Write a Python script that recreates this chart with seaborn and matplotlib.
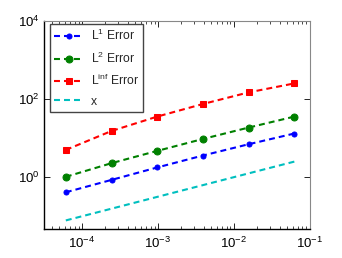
import matplotlib
matplotlib.use("Agg")
import matplotlib.pyplot as plt
import seaborn as sns
import numpy as np
import pandas as pd
from matplotlib.ticker import LogLocator, NullFormatter

h = [6.1035e-5, 2.4414e-4, 9.7656e-4, 3.9063e-3, 1.5625e-2, 6.25e-2]
err_l1 = [0.41, 0.85, 1.77, 3.58, 6.96, 13.1]
err_l2 = [1.02, 2.28, 4.7, 9.5, 18.6, 35.5]
err_linf = [4.98, 15.2, 35.5, 74.6, 148, 251]
ref_x = [0.078, 0.156, 0.3125, 0.625, 1.25, 2.5]

sns.set_style("ticks")
plt.rcParams['font.family'] = ['Liberation Sans', 'DejaVu Sans']
plt.rcParams['mathtext.fontset'] = 'custom'
plt.rcParams['mathtext.rm'] = 'Liberation Sans'
plt.rcParams['mathtext.it'] = 'Liberation Sans'
plt.rcParams['lines.scale_dashes'] = False

fig = plt.figure(figsize=(3.42, 2.58), dpi=100)
ax = fig.add_axes([0.129, 0.112, 0.777, 0.807])

series = [
    ("L$^1$ Error", err_l1, "#0000ff", "o", 3.6),
    ("L$^2$ Error", err_l2, "#008000", "o", 5.0),
    ("L$^{inf}$ Error", err_linf, "#ff0000", "s", 4.4),
    ("x", ref_x, "#00bfbf", None, 0),
]
for label, vals, col, mk, ms in series:
    df = pd.DataFrame({"h": h, "e": vals})
    sns.lineplot(data=df, x="h", y="e", ax=ax, color=col, label=label,
                 marker=mk, markersize=ms, markeredgecolor=col,
                 linestyle="--", linewidth=1.5, dashes=False)
    ax.lines[-1].set_dashes([4.3, 2.9])

ax.set_xscale("log")
ax.set_yscale("log")
ax.set_xlim(10**-4.5, 1e-1)
ax.set_ylim(10**-1.33, 1e4)
ax.set_xlabel("")
ax.set_ylabel("")
ax.set_xticks([1e-4, 1e-3, 1e-2, 1e-1])
ax.set_yticks([1e0, 1e2, 1e4])
ax.xaxis.set_minor_locator(LogLocator(base=10, subs=np.arange(2, 10), numticks=20))
ax.xaxis.set_minor_formatter(NullFormatter())
ax.yaxis.set_minor_locator(matplotlib.ticker.NullLocator())
ax.tick_params(which="both", direction="in", top=True, right=True, labelsize=9.5, colors="black")
ax.tick_params(which="major", length=4, width=0.6)
ax.tick_params(which="minor", length=2, width=0.5)
ax.tick_params(axis="x", which="major", pad=5)
ax.tick_params(axis="y", which="major", pad=3.5)
for s in ["top", "right"]:
    ax.spines[s].set_visible(True)
    ax.spines[s].set_color("#888888")
for s in ["left", "bottom"]:
    ax.spines[s].set_color("black")
    ax.spines[s].set_linewidth(1.0)

leg = ax.legend(loc="upper left", frameon=True, fancybox=False, fontsize=8.7,
                handlelength=2.4, handletextpad=0.6, borderpad=0.35, labelspacing=0.6,
                borderaxespad=0, bbox_to_anchor=(0.023, 0.985), framealpha=1)
leg.get_frame().set_edgecolor("#444444")
leg.get_frame().set_linewidth(1.0)
for l in leg.get_lines():
    l.set_dashes([4.3, 2.9])

fig.savefig("out.png", dpi=100)
